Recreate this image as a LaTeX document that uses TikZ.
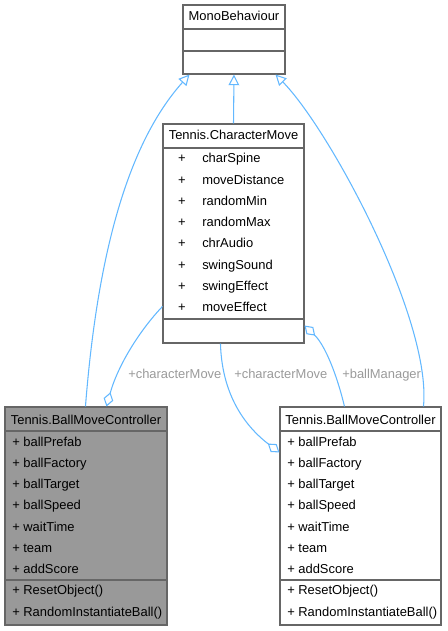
\documentclass[tikz,border=0pt]{standalone}
\usepackage{fontspec}
\setmainfont{Liberation Sans}
\usetikzlibrary{arrows.meta,fit}
\definecolor{edgec}{HTML}{63B8FF}
\definecolor{framec}{HTML}{666666}
\definecolor{lblc}{HTML}{9A9A9A}
\definecolor{shadec}{HTML}{999999}
\begin{document}
\begin{tikzpicture}[x=0.75pt,y=-0.75pt,
  txt/.style={font=\fontsize{9.7}{11}\selectfont, inner sep=0pt, anchor=base west},
  ctxt/.style={font=\fontsize{9.7}{11}\selectfont, inner sep=0pt, anchor=base},
  lbl/.style={font=\fontsize{9.7}{11}\selectfont, inner sep=0pt, anchor=base west, text=lblc},
  boxc/.style={inner sep=0pt, draw=framec, line width=0.8pt},
  sepline/.style={draw=framec, line width=0.8pt},
  inh/.style={draw=edgec, line width=0.8pt, -{Triangle[fill=white, length=8pt, width=8pt]}},
  agg/.style={draw=edgec, line width=0.8pt, {Diamond[fill=white, length=11pt, width=7.5pt]}-}
]
\useasboundingbox (0,0) rectangle (447,631);

% MonoBehaviour
\node[boxc, fit={(183,5)(285,74)}] (mono) {};
\draw[sepline] (183,29) -- (285,29);
\draw[sepline] (183,51) -- (285,51);
\node[ctxt] (monot) at (234,21) {MonoBehaviour};

% CharacterMove
\node[boxc, fill=white, fit={(163,124)(304,343)}] (cm) {};
\draw[sepline] (163,148) -- (304,148);
\draw[sepline] (163,319) -- (304,319);
\node[ctxt] (cmt) at (233.5,140) {Tennis.CharacterMove};
\foreach \n/\y [count=\i] in {charSpine/158,moveDistance/180,randomMin/201,randomMax/222,chrAudio/243,swingSound/265,swingEffect/286,moveEffect/307}{
  \node[ctxt] (cmp\i) at (182,\y+4) {+};
  \node[txt] (cma\i) at (202,\y+4) {\n};
}

% Left BallMoveController (shaded)
\node[boxc, fill=shadec, fit={(5,407)(167,625)}] (bl) {};
\draw[sepline] (5,431) -- (167,431);
\draw[sepline] (5,580) -- (167,580);
\node[ctxt] (blt) at (86,424) {Tennis.BallMoveController};
\foreach \n/\y [count=\i] in {ballPrefab/442,ballFactory/463,ballTarget/484,ballSpeed/505,waitTime/527,team/548,addScore/569,ResetObject()/590,RandomInstantiateBall()/612}{
  \node[txt] (bla\i) at (12,\y+4) {+ \n};
}

% Right BallMoveController
\node[boxc, fill=white, fit={(280,407)(441,625)}] (br) {};
\draw[sepline] (280,431) -- (441,431);
\draw[sepline] (280,580) -- (441,580);
\node[ctxt] (brt) at (360.5,424) {Tennis.BallMoveController};
\foreach \n/\y [count=\i] in {ballPrefab/442,ballFactory/463,ballTarget/484,ballSpeed/505,waitTime/527,team/548,addScore/569,ResetObject()/590,RandomInstantiateBall()/612}{
  \node[txt] (bra\i) at (287,\y+4) {+ \n};
}

% Inheritance
\draw[inh] ([xshift=60.75pt]bl.north west) .. controls (100,220) and (140,130) .. ([xshift=5.25pt]mono.south west);
\draw[inh] (cm.north) -- (mono.south);
\draw[inh] ([xshift=108pt]br.north west) .. controls (432,320) and (330,130) .. ([xshift=-7.5pt]mono.south east);

% Aggregation
\draw[agg] ([xshift=76.5pt]bl.north west) .. controls (118,365) and (140,330) .. ([yshift=-137.25pt]cm.north west);
\draw[agg] ([yshift=-34.5pt]br.north west) .. controls (250,430) and (222,400) .. ([xshift=43.5pt]cm.south west);
\draw[agg] ([yshift=13.5pt]cm.south east) .. controls (325,345) and (337,375) .. ([xshift=48.75pt]br.north west);

% Labels
\node[lbl] (l1) at (128,378) {+characterMove};
\node[lbl] (l2) at (234,378) {+characterMove};
\node[lbl] (l3) at (342,378) {+ballManager};
\end{tikzpicture}
\end{document}
